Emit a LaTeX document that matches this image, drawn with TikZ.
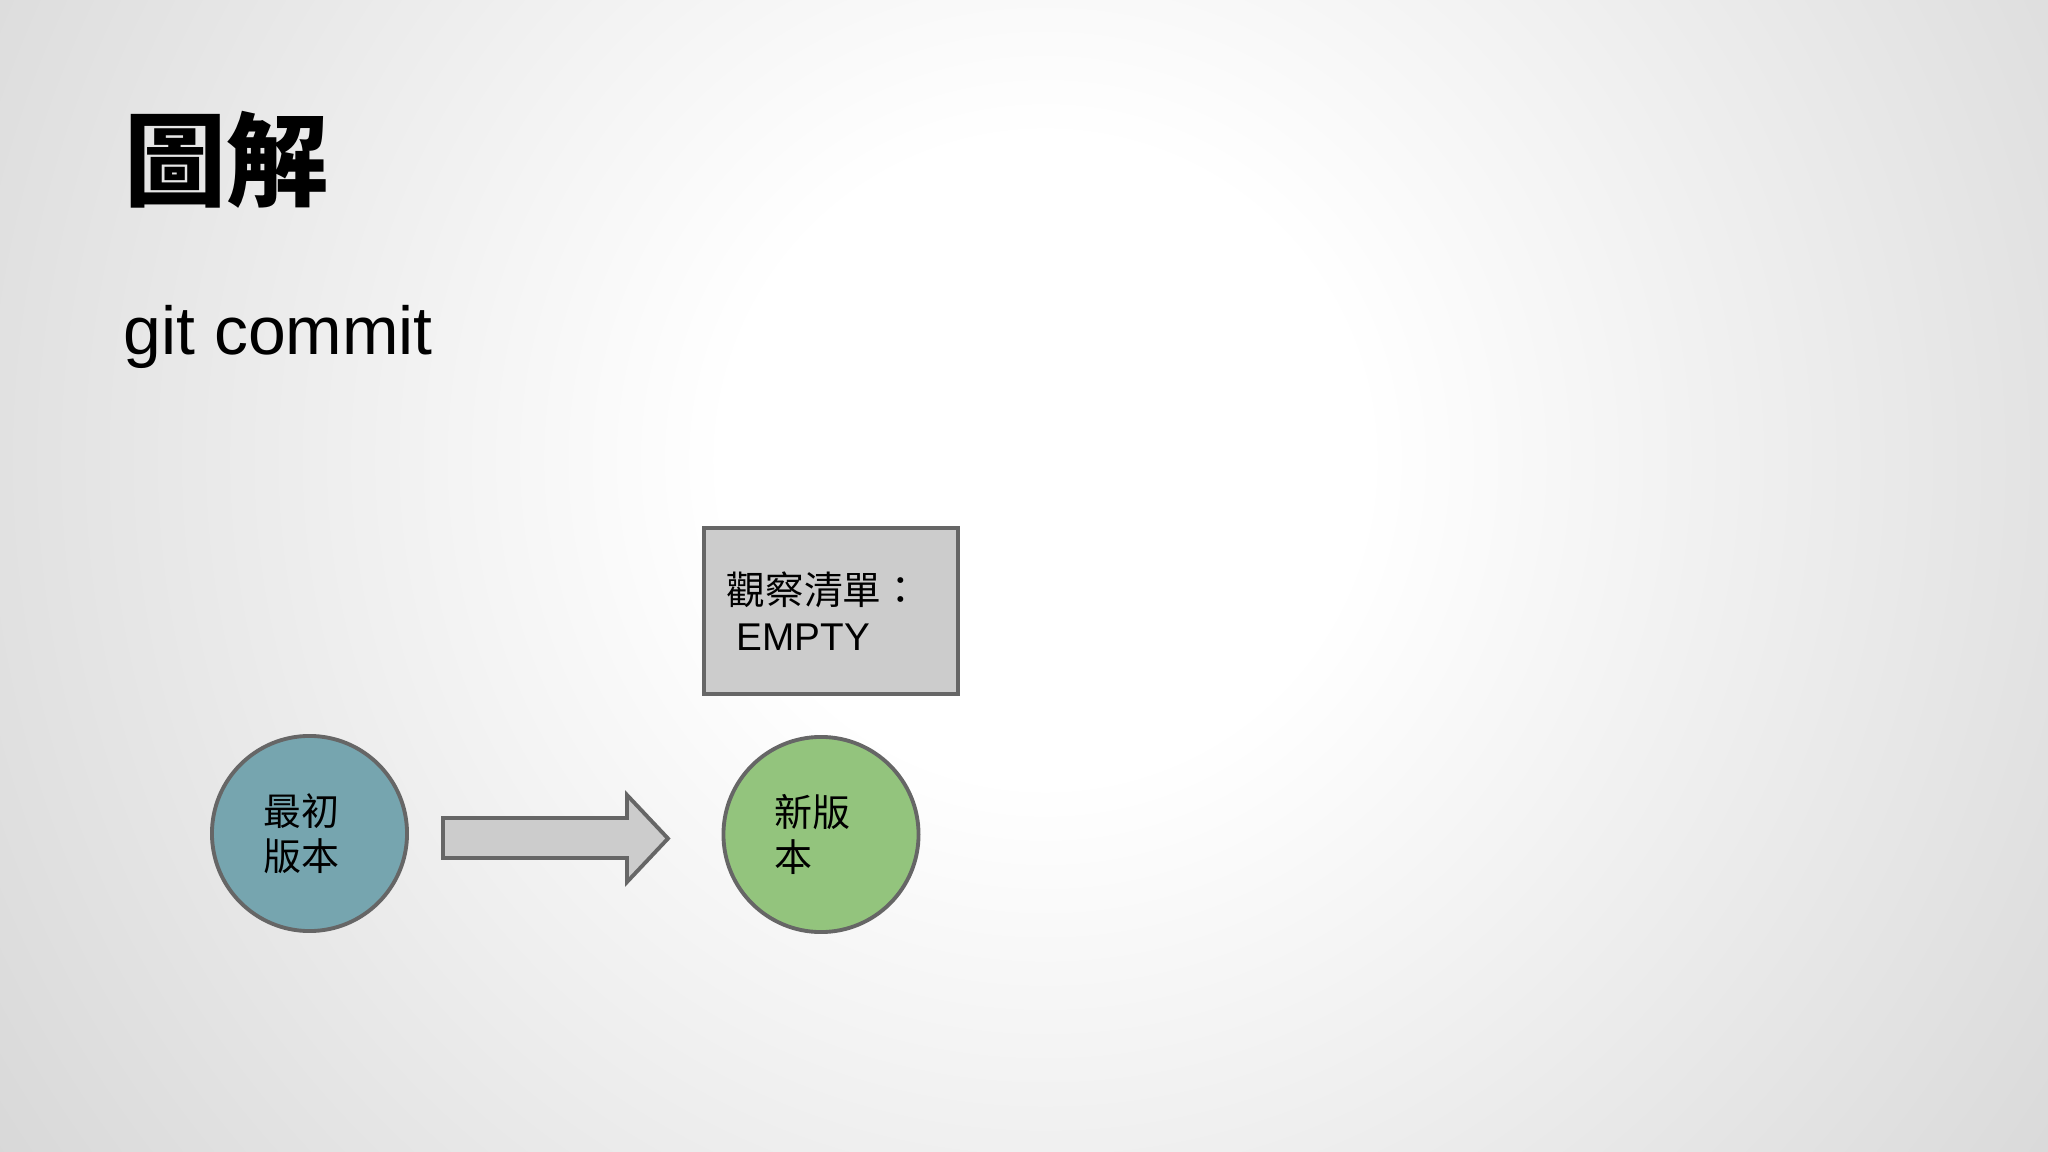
\documentclass[tikz,border=0pt]{standalone}
\usepackage{fontspec}
\setmainfont{Liberation Sans}
\newfontfamily\cjk{Noto Sans CJK TC}

\definecolor{edgegray}{HTML}{CACACA}
\definecolor{oldblue}{HTML}{76A5AF}
\definecolor{newgreen}{HTML}{93C47D}
\definecolor{boxgray}{HTML}{CCCCCC}
\definecolor{linegray}{HTML}{666666}

\pgfdeclareradialshading{slideglow}{\pgfpoint{0bp}{0bp}}{color(0bp)=(white); color(5bp)=(white); color(25bp)=(edgegray); color(50bp)=(edgegray)}

\tikzset{
  version/.style={circle, draw=linegray, line width=1.1pt, minimum size=1.95cm,
    text width=0.92cm, align=left, inner sep=0pt,
    font=\cjk\fontsize{10.8}{12.8}\selectfont},
  listbox/.style={rectangle, draw=linegray, fill=boxgray, line width=1.1pt,
    text width=2.08cm, inner xsep=0.23cm, minimum height=1.66cm, align=left,
    font=\fontsize{11}{13.1}\selectfont},
  arrowbody/.style={draw=linegray, fill=boxgray, line width=1.1pt, line join=miter}
}

\begin{document}
\begin{tikzpicture}[x=0.01cm, y=-0.01cm]
  \useasboundingbox (0,0) rectangle (2048,1152);
  % slide background
  \begin{scope}
    \clip (0,0) rectangle (2048,1152);
    \shade[shading=slideglow] (-555,-1140) rectangle (2645,2060);
  \end{scope}

  % headings
  \node[inner sep=0pt, font=\cjk\bfseries\fontsize{29}{34}\selectfont] (head) at (226,160) {圖解};
  \node[anchor=base west, inner sep=0pt, font=\fontsize{19.3}{23}\selectfont] (cmd) at (123,355) {git commit};

  % versions
  \node[version, fill=oldblue] (old) at (309.5,833.5) {最初\\版本};
  \node[version, fill=newgreen] (new) at (821,834.5) {新版\\本};
  \draw[arrowbody] (443,818) -- (627,818) -- (627,795) -- (668,838.5)
    -- (627,882) -- (627,858) -- (443,858) -- cycle;

  % watch list
  \node[listbox] (watch) at (831,611) {{\cjk 觀察清單：}\\\hspace*{0.25em}EMPTY};
\end{tikzpicture}
\end{document}
